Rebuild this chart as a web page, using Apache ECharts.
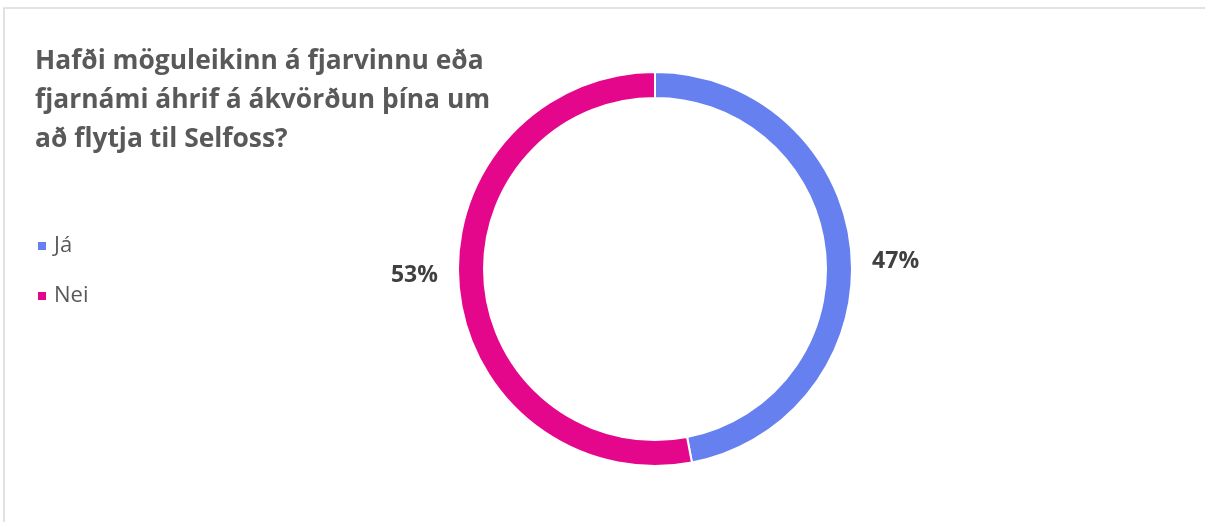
<!DOCTYPE html>
<html>
<head>
<meta charset="utf-8">
<script src="https://cdn.jsdelivr.net/npm/echarts@6/dist/echarts.min.js"></script>
<style>
html,body{margin:0;padding:0;background:#fff;}
#c{width:1205px;height:522px;}
</style>
</head>
<body>
<div id="c"></div>
<script>
const titleLines = ['Hafði möguleikinn á fjarvinnu eða', 'fjarnámi áhrif á ákvörðun þína um', 'að flytja til Selfoss?'];
const categories = ['Já', 'Nei'];
const values = [47, 53];
const colors = ['#6680EF', '#E5078B'];

const chart = echarts.init(document.getElementById('c'), null, {renderer: 'canvas'});
chart.setOption({
  animation: false,
  backgroundColor: '#ffffff',
  graphic: [{
    type: 'rect', silent: true,
    shape: {x: 4, y: 8, width: 1220, height: 540},
    style: {fill: 'none', stroke: '#d9d9d9', lineWidth: 1.5}
  }],
  title: {
    text: titleLines.join('\n'),
    left: 35, top: 42, padding: 0,
    textStyle: {fontFamily: 'Open Sans', fontSize: 26.4, fontWeight: 'bold', color: '#595959', lineHeight: 39}
  },
  legend: {
    orient: 'vertical', left: 36, top: 235, padding: 0,
    itemWidth: 10, itemHeight: 10, itemGap: 28,
    icon: 'rect',
    data: categories,
    textStyle: {fontFamily: 'Open Sans', fontSize: 22, color: '#595959', padding: [0, 0, 0, 2]}
  },
  series: [{
    type: 'pie',
    center: [655, 269],
    radius: [171, 197],
    startAngle: 90,
    clockwise: true,
    itemStyle: {borderColor: '#ffffff', borderWidth: 2},
    label: {
      show: true, position: 'outside',
      formatter: p => Math.round(p.percent) + '%',
      fontFamily: 'Open Sans', fontSize: 23, fontWeight: 'bold', color: '#404040'
    },
    labelLine: {show: false, length: 6, length2: 10},
    labelLayout: p => ({dy: p.dataIndex === 0 ? 12 : -13}),
    emphasis: {disabled: true},
    data: categories.map((c, i) => ({name: c, value: values[i], itemStyle: {color: colors[i]}}))
  }]
});
</script>
</body>
</html>
